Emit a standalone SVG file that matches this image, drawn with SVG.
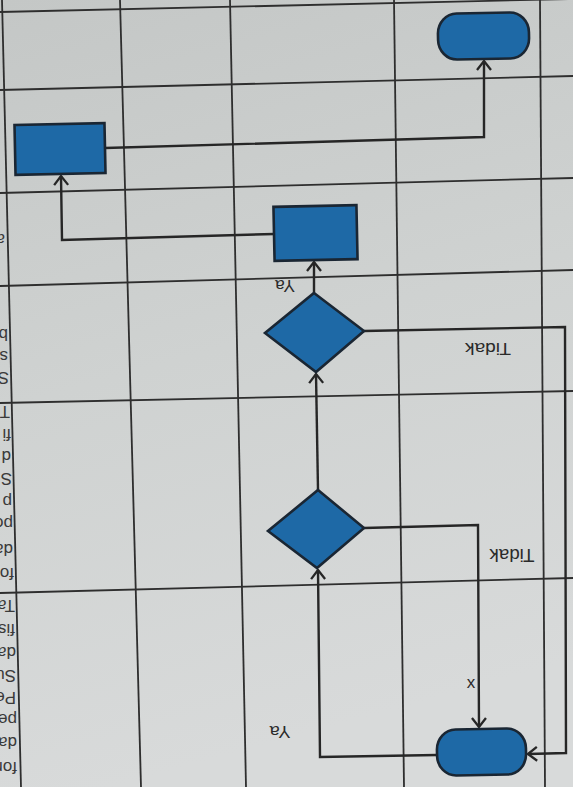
<svg xmlns="http://www.w3.org/2000/svg" width="573" height="787" viewBox="0 0 573 787">
  <defs>
    <linearGradient id="bg" x1="0" y1="0" x2="0.2" y2="1">
      <stop offset="0" stop-color="#c4c7c6"/>
      <stop offset="0.5" stop-color="#cfd2d1"/>
      <stop offset="1" stop-color="#d8dada"/>
    </linearGradient>
    <marker id="arr" viewBox="-2 -9 12 18" refX="9" refY="0" markerWidth="12" markerHeight="18" orient="auto" markerUnits="userSpaceOnUse">
      <path d="M0,-7 L9,0 L0,7" fill="none" stroke="#262626" stroke-width="2.3"/>
    </marker>
    <style>
      .grid { stroke: #2e2e2e; stroke-width: 1.8; fill: none; }
      .shape { fill: #1e69a6; stroke: #1a2633; stroke-width: 2.6; }
      .conn { fill: none; stroke: #262626; stroke-width: 2.4; marker-end: url(#arr); }
      .lbl { font-family: "Liberation Sans", Arial, sans-serif; fill: #2a2a2a; }
      .frag { font-family: "Liberation Sans", Arial, sans-serif; font-size: 17px; fill: #3a3a3a; }
    </style>
  </defs>

  <rect x="0" y="0" width="573" height="787" fill="url(#bg)"/>

  <g id="grid">
    <line class="grid" x1="2" y1="0" x2="21" y2="787"/>
    <line class="grid" x1="120" y1="0" x2="141" y2="787"/>
    <line class="grid" x1="230" y1="0" x2="246" y2="787"/>
    <line class="grid" x1="394" y1="0" x2="404" y2="787"/>
    <line class="grid" x1="540" y1="0" x2="545" y2="787"/>
    <line class="grid" x1="0" y1="12" x2="573" y2="-1"/>
    <line class="grid" x1="0" y1="90" x2="573" y2="76"/>
    <line class="grid" x1="0" y1="193" x2="573" y2="178"/>
    <line class="grid" x1="0" y1="286" x2="573" y2="270"/>
    <line class="grid" x1="0" y1="403" x2="573" y2="391"/>
    <line class="grid" x1="0" y1="593" x2="573" y2="578"/>
  </g>

  <g id="margin-text" class="frag">
    <text transform="translate(5,234) rotate(180)">a</text>
    <text transform="translate(8,329) rotate(180)">b</text>
    <text transform="translate(8,351) rotate(180)">s</text>
    <text transform="translate(9,372) rotate(180)">S</text>
    <text transform="translate(10,406) rotate(180)">T</text>
    <text transform="translate(11,429) rotate(180)">fi</text>
    <text transform="translate(11,451) rotate(180)">d</text>
    <text transform="translate(12,473) rotate(180)">S</text>
    <text transform="translate(12,496) rotate(180)">p</text>
    <text transform="translate(13,518) rotate(180)">po</text>
    <text transform="translate(13,544) rotate(180)">da</text>
    <text transform="translate(14,568) rotate(180)">fo</text>
    <text transform="translate(15,600) rotate(180)">Ta</text>
    <text transform="translate(15,624) rotate(180)">fis</text>
    <text transform="translate(16,647) rotate(180)">da</text>
    <text transform="translate(16,670) rotate(180)">Su</text>
    <text transform="translate(16,692) rotate(180)">Pe</text>
    <text transform="translate(17,714) rotate(180)">pe</text>
    <text transform="translate(17,737) rotate(180)">da</text>
    <text transform="translate(17,762) rotate(180)">for</text>
  </g>

  <g id="connectors">
    <polyline class="conn" points="105,148 484,137 484,61"/>
    <polyline class="conn" points="274,234 62,240 61,176"/>
    <polyline class="conn" points="314,293 314,262"/>
    <polyline class="conn" points="364,331 565,327 566,753 528,754"/>
    <polyline class="conn" points="318,490 316,374"/>
    <polyline class="conn" points="364,528 478,525 479,727"/>
    <polyline class="conn" points="437,755 320,757 318,570"/>
  </g>

  <g id="end-terminator">
    <rect class="shape" x="438" y="13" width="91" height="46" rx="19" ry="20" transform="rotate(-1.2 483 36)"/>
  </g>
  <g id="process-2">
    <rect class="shape" x="15" y="124" width="90" height="50" transform="rotate(-1.2 60 149)"/>
  </g>
  <g id="process-1">
    <rect class="shape" x="274" y="206" width="83" height="54" transform="rotate(-1.2 315 233)"/>
  </g>
  <g id="decision-2">
    <polygon class="shape" points="314,293 364,331 316,372 265,333"/>
  </g>
  <g id="decision-1">
    <polygon class="shape" points="318,490 364,528 317,568 268,531"/>
  </g>
  <g id="start-terminator">
    <rect class="shape" x="437" y="729" width="89" height="46" rx="19" ry="20" transform="rotate(-1.2 481 752)"/>
  </g>

  <g id="labels" class="lbl">
    <text x="285" y="290.5" font-size="16" text-anchor="middle" textLength="20" lengthAdjust="spacingAndGlyphs" transform="rotate(180 285 285)">Ya</text>
    <text x="488" y="355.5" font-size="17" text-anchor="middle" textLength="46" lengthAdjust="spacingAndGlyphs" transform="rotate(180 488 349)">Tidak</text>
    <text x="512" y="561.5" font-size="18" text-anchor="middle" textLength="45" lengthAdjust="spacingAndGlyphs" transform="rotate(180 512 555)">Tidak</text>
    <text x="471" y="688" font-size="17" text-anchor="middle">x</text>
    <text x="280" y="736.5" font-size="16" text-anchor="middle" textLength="21" lengthAdjust="spacingAndGlyphs" transform="rotate(180 280 731)">Ya</text>
  </g>
</svg>
